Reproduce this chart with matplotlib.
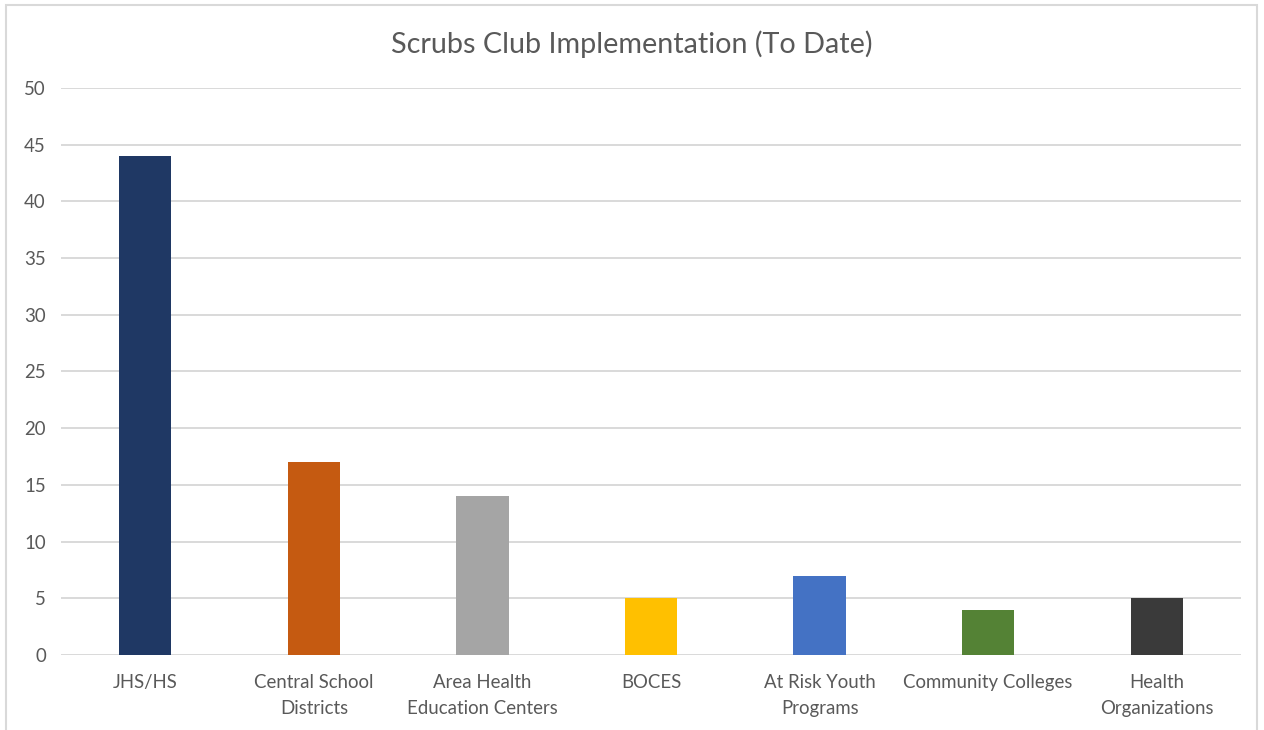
import matplotlib
matplotlib.use("Agg")
import matplotlib.pyplot as plt
from matplotlib.patches import Rectangle

# ---- data ----
categories = ["JHS/HS", "Central School\nDistricts", "Area Health\nEducation Centers",
              "BOCES", "At Risk Youth\nPrograms", "Community Colleges",
              "Health\nOrganizations"]
counts = [44, 17, 14, 5, 7, 4, 5]
bar_colors = ["#1f3864", "#c55a11", "#a5a5a5", "#ffc000", "#4472c4", "#548235", "#3a3a3a"]
yticks = [0, 5, 10, 15, 20, 25, 30, 35, 40, 45, 50]

plt.rcParams["font.family"] = ["Lato", "DejaVu Sans"]

fig = plt.figure(figsize=(12.64, 7.30), dpi=100)
ax = fig.add_axes([0.0483, 0.1027, 0.9335, 0.7768])

x = range(len(categories))
ax.bar(x, counts, width=0.31, color=bar_colors, zorder=3)

ax.set_ylim(0, 50)
ax.set_xlim(-0.5, len(categories) - 0.5)
ax.set_yticks(yticks)
ax.set_xticks(list(x))
ax.set_xticklabels(categories, fontsize=13.4, color="#595959", linespacing=1.6)
ax.tick_params(axis="y", labelsize=13.4, labelcolor="#595959", length=0, pad=11)
ax.tick_params(axis="x", length=0, pad=14)
ax.grid(axis="y", color="#d9d9d9", linewidth=1.4, zorder=0)
for s in ax.spines.values():
    s.set_visible(False)

fig.text(0.5, 0.94, "Scrubs Club Implementation (To Date)", ha="center", va="center",
         fontsize=20.7, color="#595959")

# light outer frame like the spreadsheet chart area
fig.patches.append(Rectangle((6 / 1264, -0.05), 1251 / 1264, 1.05 - 5 / 730,
                             transform=fig.transFigure, fill=False,
                             edgecolor="#d9d9d9", linewidth=1.5))

fig.savefig("out.png", dpi=100, facecolor="white")
